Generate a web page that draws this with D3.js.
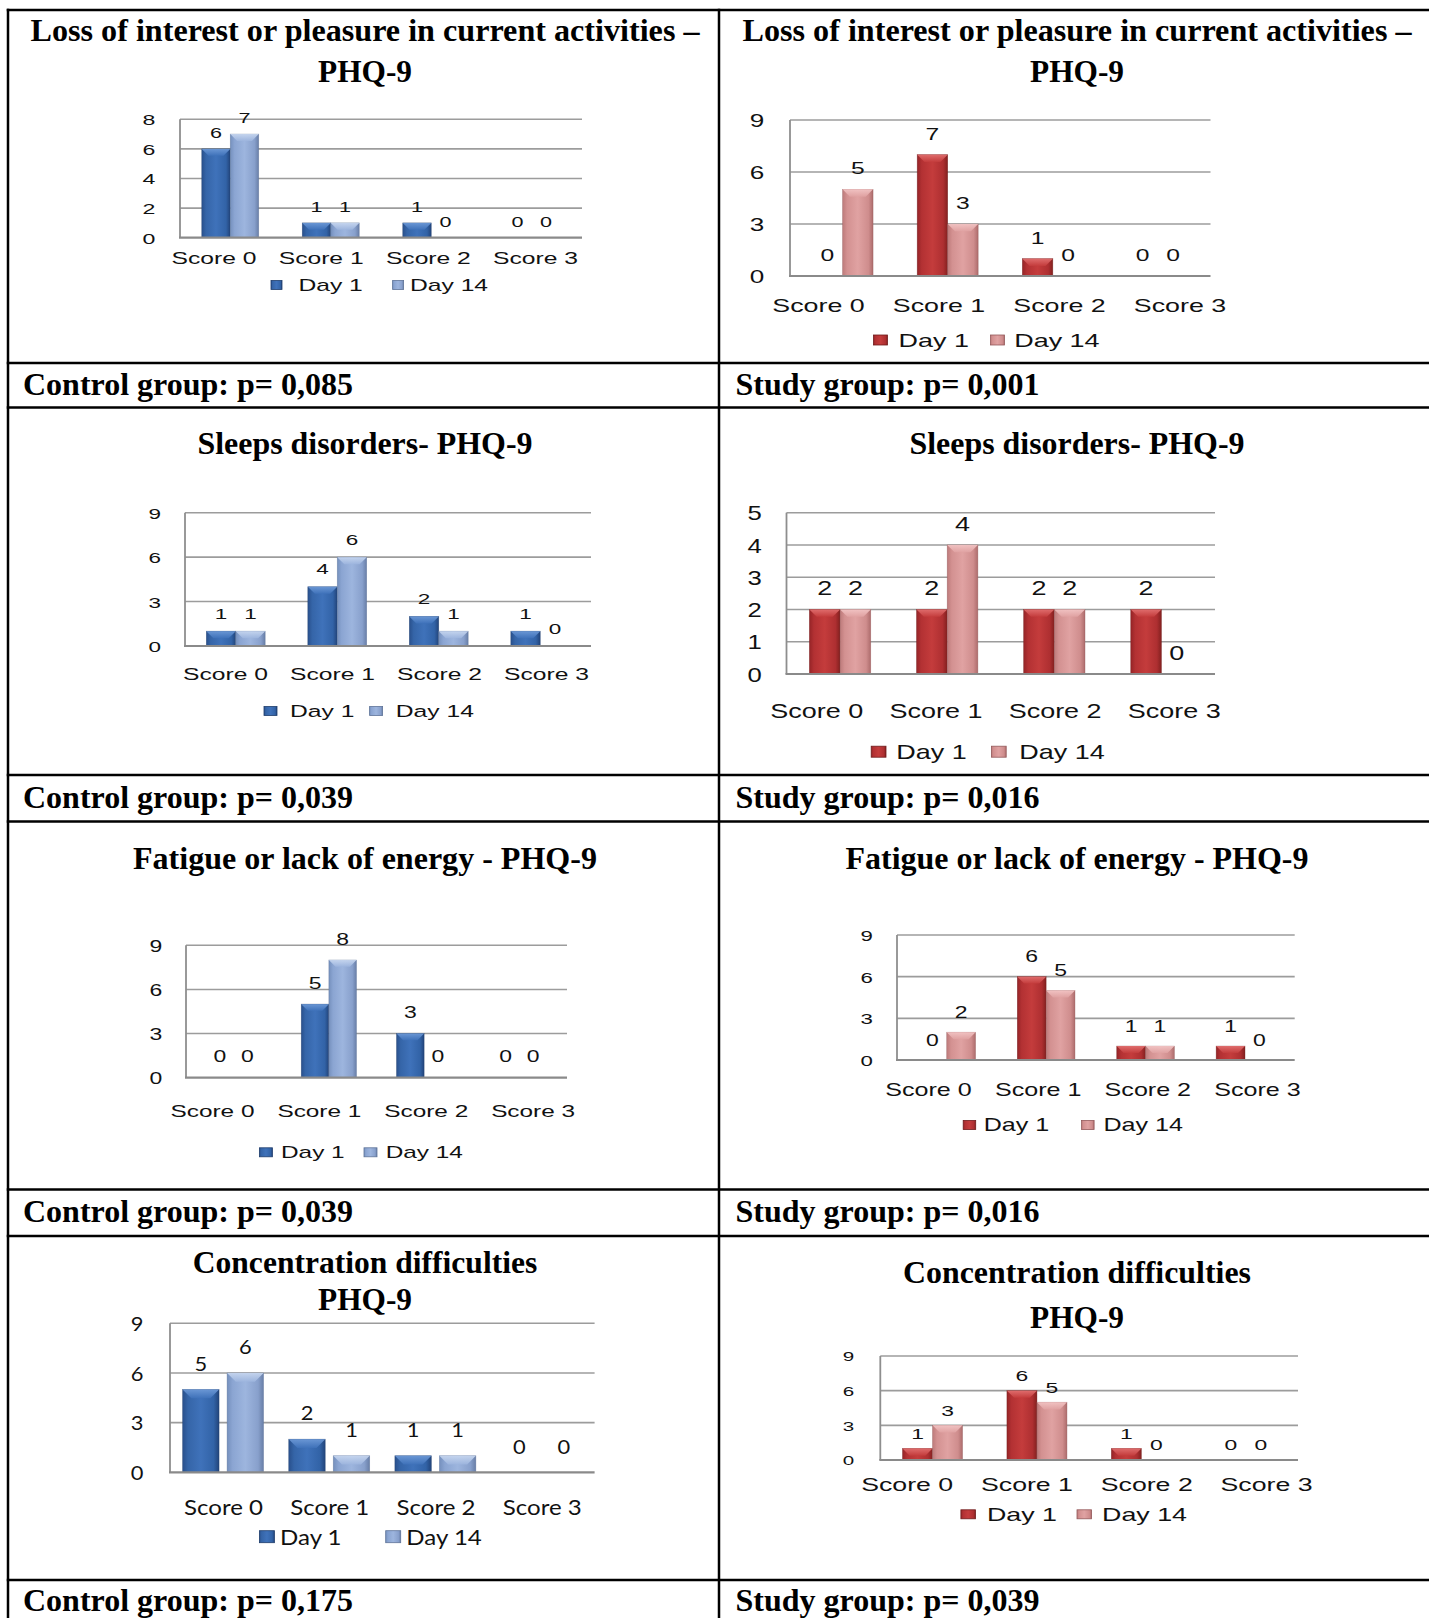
<!DOCTYPE html>
<html>
<head>
<meta charset="utf-8">
<script src="https://cdn.jsdelivr.net/npm/d3@7"></script>
<style>
  html, body { margin: 0; padding: 0; background: #fff; }
  svg { display: block; }
</style>
</head>
<body>
<svg id="chart" width="1429" height="1618"></svg>
<script>
// ---- data ----
const categories = ["Score 0", "Score 1", "Score 2", "Score 3"];
const seriesNames = ["Day 1", "Day 14"];

const ticksBy2To8 = [0, 2, 4, 6, 8];
const ticksBy3To9 = [0, 3, 6, 9];
const ticksBy1To5 = [0, 1, 2, 3, 4, 5];

const lossTitle = ["Loss of interest or pleasure in current activities \u2013", "PHQ-9"];
const sleepTitle = ["Sleeps disorders- PHQ-9"];
const fatigueTitle = ["Fatigue or lack of energy - PHQ-9"];
const concentrationTitle = ["Concentration difficulties", "PHQ-9"];

const lossControlDay1 = [6, 1, 1, 0];
const lossControlDay14 = [7, 1, 0, 0];
const lossStudyDay1 = [0, 7, 1, 0];
const lossStudyDay14 = [5, 3, 0, 0];

const sleepControlDay1 = [1, 4, 2, 1];
const sleepControlDay14 = [1, 6, 1, 0];
const sleepStudyDay1 = [2, 2, 2, 2];
const sleepStudyDay14 = [2, 4, 2, 0];

const fatigueControlDay1 = [0, 5, 3, 0];
const fatigueControlDay14 = [0, 8, 0, 0];
const fatigueStudyDay1 = [0, 6, 1, 1];
const fatigueStudyDay14 = [2, 5, 1, 0];

const concentrationControlDay1 = [5, 2, 1, 0];
const concentrationControlDay14 = [6, 1, 1, 0];
const concentrationStudyDay1 = [1, 6, 1, 0];
const concentrationStudyDay14 = [3, 5, 0, 0];

const pValueTexts = [
  ["Control group: p= 0,085", "Study group: p= 0,001"],
  ["Control group: p= 0,039", "Study group: p= 0,016"],
  ["Control group: p= 0,039", "Study group: p= 0,016"],
  ["Control group: p= 0,175", "Study group: p= 0,039"]
];

const panels = [
  { title: lossTitle, ticks: ticksBy2To8, day1: lossControlDay1, day14: lossControlDay14 },
  { title: lossTitle, ticks: ticksBy3To9, day1: lossStudyDay1, day14: lossStudyDay14 },
  { title: sleepTitle, ticks: ticksBy3To9, day1: sleepControlDay1, day14: sleepControlDay14 },
  { title: sleepTitle, ticks: ticksBy1To5, day1: sleepStudyDay1, day14: sleepStudyDay14 },
  { title: fatigueTitle, ticks: ticksBy3To9, day1: fatigueControlDay1, day14: fatigueControlDay14 },
  { title: fatigueTitle, ticks: ticksBy3To9, day1: fatigueStudyDay1, day14: fatigueStudyDay14 },
  { title: concentrationTitle, ticks: ticksBy3To9, day1: concentrationControlDay1, day14: concentrationControlDay14 },
  { title: concentrationTitle, ticks: ticksBy3To9, day1: concentrationStudyDay1, day14: concentrationStudyDay14 }
];

// ---- layout & style ----
const SANS = "'Liberation Sans', Arial, sans-serif";
const LATO = "Lato, 'Open Sans', sans-serif";
const SERIF = "'Liberation Serif', 'Times New Roman', serif";

const layout = [
  { col: 0, palette: "blue", font: SANS, x0: 180, x1: 582, yTop: 119.3, yBase: 237.7, pad: 0.433, innerPad: 0,
    tickX: 149, tickFs: 15, valFs: 14, valOff: 16, labFs: 16, labW: 85, labY: 258.3, labRange: [213.5, 535],
    legY: 285, legM: [271, 392.6], legMW: 11, mh: 9, legT: [298.4, 410], legFs: 16,
    titleY: [40.7, 81.7], titleW: [669, 94] },
  { col: 1, palette: "red", font: SANS, x0: 790, x1: 1210.5, yTop: 120, yBase: 276, pad: 0.42, innerPad: 0,
    tickX: 757, tickFs: 18, valFs: 17, valOff: 21, labFs: 18.5, labW: 92.4, labY: 305, labRange: [818, 1179.5],
    legY: 340, legM: [873.5, 990.5], legMW: 14, mh: 10, legT: [898.5, 1014.2], legFs: 18.6,
    titleY: [40.7, 81.7], titleW: [669, 94] },
  { col: 0, palette: "blue", font: SANS, x0: 185, x1: 591, yTop: 512.7, yBase: 646, pad: 0.42, innerPad: 0,
    tickX: 154.7, tickFs: 15.5, valFs: 15.5, valOff: 18, labFs: 17, labW: 85, labY: 674, labRange: [225, 546],
    legY: 711, legM: [264, 369.6], legMW: 13, mh: 9, legT: [290, 395.8], legFs: 17,
    titleY: [454], titleW: [335] },
  { col: 1, palette: "red", font: SANS, x0: 786.5, x1: 1215, yTop: 512.7, yBase: 674, pad: 0.427, innerPad: 0,
    tickX: 754.6, tickFs: 20, valFs: 21, valOff: 22, labFs: 21, labW: 93, labY: 710, labRange: [816.3, 1173.8],
    legY: 751.7, legM: [871.2, 991.4], legMW: 14.8, mh: 11, legT: [896.2, 1019.2], legFs: 21,
    titleY: [453.5], titleW: [335] },
  { col: 0, palette: "blue", font: SANS, x0: 186, x1: 567, yTop: 945.3, yBase: 1077.7, pad: 0.42, innerPad: 0,
    tickX: 156, tickFs: 16, valFs: 16, valOff: 21, labFs: 17, labW: 84, labY: 1111, labRange: [212, 532.6],
    legY: 1152.3, legM: [259.4, 364], legMW: 13, mh: 9, legT: [281, 385.7], legFs: 17,
    titleY: [869.3], titleW: [464] },
  { col: 1, palette: "red", font: SANS, x0: 897, x1: 1294.7, yTop: 935, yBase: 1060, pad: 0.42, innerPad: 0,
    tickX: 866.6, tickFs: 15.5, valFs: 16, valOff: 20, labFs: 17.5, labW: 86.5, labY: 1089.3, labRange: [928, 1257],
    legY: 1125, legM: [963.2, 1081.6], legMW: 12.5, mh: 9, legT: [983.7, 1103.4], legFs: 17.5,
    titleY: [869.3], titleW: [463] },
  { col: 0, palette: "blue", font: LATO, x0: 170, x1: 594.6, yTop: 1323.3, yBase: 1472.3, pad: 0.237, innerPad: 0.18,
    tickX: 137, tickFs: 20, valFs: 20, valOff: 26, labFs: 22, labW: 79, labY: 1506.7, labRange: [223, 541.8],
    legY: 1536.7, legM: [259.4, 385.7], legMW: 15, mh: 12, legT: [280, 406.3], legFs: 22,
    titleY: [1273.3, 1310], titleW: [344.5, 94] },
  { col: 1, palette: "red", font: SANS, x0: 880.3, x1: 1298, yTop: 1356, yBase: 1460, pad: 0.425, innerPad: 0,
    tickX: 848.4, tickFs: 13.5, valFs: 15, valOff: 15, labFs: 17.5, labW: 92, labY: 1485, labRange: [906.7, 1266],
    legY: 1514.3, legM: [960.9, 1077], legMW: 14.6, mh: 9, legT: [986.9, 1102], legFs: 17.6,
    titleY: [1283.3, 1328.3], titleW: [348, 94] }
];

const palettes = {
  blue: [
    { stops: ["#29508c", "#3565a8", "#3f72ba", "#3263a7", "#22447a"], cap: "#6f9bd8", edge: "#1f3d6c" },
    { stops: ["#7590bd", "#8ba5d2", "#9db5de", "#88a0cc", "#687ea7"], cap: "#c9d8f0", edge: "#5e7398" }
  ],
  red: [
    { stops: ["#952427", "#b33133", "#c43c3c", "#ae2f31", "#83201f"], cap: "#e37272", edge: "#6f1b1b" },
    { stops: ["#bd7a7a", "#d39191", "#e0a2a2", "#cf8d8d", "#ad6c6c"], cap: "#f3c6c6", edge: "#93595a" }
  ]
};

const tableRows = [10, 363, 407.5, 775, 821.5, 1189.5, 1236, 1580];
const tableCols = [8, 719];
const titleCenters = [365, 1077];
const pTextX = [23, 735.5];
const pTextY = [395, 808, 1222, 1611];

// ---- drawing ----
const svg = d3.select("#chart");
const defs = svg.append("defs");

Object.entries(palettes).forEach(([name, series]) => {
  series.forEach((s, si) => {
    const lg = defs.append("linearGradient").attr("id", `bar-${name}-${si}`)
      .attr("x1", 0).attr("x2", 1).attr("y1", 0).attr("y2", 0);
    [0, 0.15, 0.5, 0.85, 1].forEach((o, k) =>
      lg.append("stop").attr("offset", o).attr("stop-color", s.stops[k]));
    const cg = defs.append("linearGradient").attr("id", `cap-${name}-${si}`)
      .attr("x1", 0).attr("x2", 0).attr("y1", 0).attr("y2", 1);
    cg.append("stop").attr("offset", 0).attr("stop-color", s.cap);
    cg.append("stop").attr("offset", 1).attr("stop-color", s.stops[2]);
  });
});

// horizontal stretch so the chart text keeps the wide look of the plots
function stretchFactor(family, fs, targetW) {
  const t = svg.append("text").attr("font-family", family).attr("font-size", fs).text(categories[0]);
  const w = t.node().getComputedTextLength();
  t.remove();
  return w > 0 ? targetW / w : 1;
}

function drawPanel(d, L) {
  const g = svg.append("g");
  const fam = L.font;
  const cx = titleCenters[L.col];
  const f = stretchFactor(fam, L.labFs, L.labW);
  const pal = palettes[L.palette];

  // title
  d.title.forEach((line, i) => {
    g.append("text")
      .attr("x", cx).attr("y", L.titleY[i])
      .attr("text-anchor", "middle")
      .attr("font-family", SERIF).attr("font-weight", "bold").attr("font-size", 31)
      .attr("textLength", L.titleW[i]).attr("lengthAdjust", "spacingAndGlyphs")
      .text(line);
  });

  const x = d3.scaleBand().domain(categories).range([L.x0, L.x1])
    .paddingInner(L.pad).paddingOuter(L.pad / 2);
  const xs = d3.scaleBand().domain(seriesNames).range([0, x.bandwidth()]).paddingInner(L.innerPad);
  const y = d3.scaleLinear().domain([0, d.ticks[d.ticks.length - 1]]).range([L.yBase, L.yTop]);
  const labelX = d3.scalePoint().domain(categories).range(L.labRange);

  // gridlines
  g.append("g").selectAll("line").data(d.ticks.filter(t => t > 0)).join("line")
    .attr("x1", L.x0).attr("x2", L.x1)
    .attr("y1", t => y(t)).attr("y2", t => y(t))
    .attr("stroke", "#9c9c9c").attr("stroke-width", 1.6);

  // bars
  const barData = [];
  seriesNames.forEach((s, si) => {
    const vals = si === 0 ? d.day1 : d.day14;
    categories.forEach((c, ci) => barData.push({ s, si, c, v: vals[ci] }));
  });
  const w = xs.bandwidth();
  const bars = g.append("g");
  barData.filter(b => b.v > 0).forEach(b => {
    const bx = x(b.c) + xs(b.s);
    const top = y(b.v);
    const h = L.yBase - top;
    bars.append("rect")
      .attr("x", bx).attr("y", top).attr("width", w).attr("height", h)
      .attr("fill", `url(#bar-${L.palette}-${b.si})`)
      .attr("stroke", pal[b.si].edge).attr("stroke-width", 0.6).attr("stroke-opacity", 0.6);
    const bv = Math.min(w * 0.24, h);
    bars.append("polygon")
      .attr("points", [[bx, top], [bx + w, top], [bx + w - bv, top + bv], [bx + bv, top + bv]].map(p => p.join(",")).join(" "))
      .attr("fill", `url(#cap-${L.palette}-${b.si})`).attr("opacity", 0.9);
  });

  // axis lines
  g.append("line").attr("x1", L.x0).attr("x2", L.x0).attr("y1", L.yTop).attr("y2", L.yBase)
    .attr("stroke", "#8e8e8e").attr("stroke-width", 1.8);
  g.append("line").attr("x1", L.x0 - 1).attr("x2", L.x1).attr("y1", L.yBase).attr("y2", L.yBase)
    .attr("stroke", "#8a8a8a").attr("stroke-width", 2.2);

  // value labels
  g.append("g").selectAll("text").data(barData).join("text")
    .attr("transform", b => `translate(${x(b.c) + xs(b.s) + w / 2},${y(b.v) - L.valOff + 0.36 * L.valFs}) scale(${f},1)`)
    .attr("text-anchor", "middle")
    .attr("font-family", fam).attr("font-size", L.valFs).attr("fill", "#111")
    .text(b => b.v);

  // y tick labels
  const ya = g.append("g").attr("transform", `translate(${L.tickX},0)`)
    .call(d3.axisLeft(y).tickValues(d.ticks).tickFormat(d3.format("d")).tickSize(0).tickPadding(0));
  ya.select(".domain").remove();
  ya.selectAll("text")
    .attr("x", 0).attr("y", 0).attr("dy", null)
    .attr("text-anchor", "middle")
    .attr("font-family", fam).attr("font-size", L.tickFs).attr("fill", "#111")
    .attr("transform", `translate(0,${0.36 * L.tickFs}) scale(${f},1)`);

  // category labels
  const xa = g.append("g").attr("transform", `translate(0,${L.labY})`)
    .call(d3.axisBottom(labelX).tickSize(0).tickPadding(0));
  xa.select(".domain").remove();
  xa.selectAll("text")
    .attr("x", 0).attr("y", 0).attr("dy", null)
    .attr("text-anchor", "middle")
    .attr("font-family", fam).attr("font-size", L.labFs).attr("fill", "#111")
    .attr("transform", `translate(0,${0.36 * L.labFs}) scale(${f},1)`);

  // legend
  const lg = g.append("g");
  seriesNames.forEach((s, si) => {
    lg.append("rect")
      .attr("x", L.legM[si]).attr("y", L.legY - L.mh / 2)
      .attr("width", L.legMW).attr("height", L.mh)
      .attr("fill", `url(#bar-${L.palette}-${si})`)
      .attr("stroke", pal[si].edge).attr("stroke-width", 0.8);
    lg.append("text")
      .attr("transform", `translate(${L.legT[si]},${L.legY + 0.36 * L.legFs}) scale(${f},1)`)
      .attr("text-anchor", "start")
      .attr("font-family", fam).attr("font-size", L.legFs).attr("fill", "#111")
      .text(s);
  });
}

panels.forEach((p, i) => drawPanel(p, layout[i]));

// p-value rows
pValueTexts.forEach((row, r) => {
  row.forEach((t, c) => {
    svg.append("text")
      .attr("x", pTextX[c]).attr("y", pTextY[r])
      .attr("font-family", SERIF).attr("font-weight", "bold").attr("font-size", 32)
      .attr("fill", "#000")
      .text(t);
  });
});

// table rules
const rules = svg.append("g").attr("stroke", "#000").attr("stroke-width", 2.5);
tableRows.forEach(yy => rules.append("line").attr("x1", tableCols[0] - 1.25).attr("x2", 1429).attr("y1", yy).attr("y2", yy));
tableCols.forEach(xx => rules.append("line").attr("x1", xx).attr("x2", xx).attr("y1", tableRows[0] - 1.25).attr("y2", 1618));
</script>
</body>
</html>
